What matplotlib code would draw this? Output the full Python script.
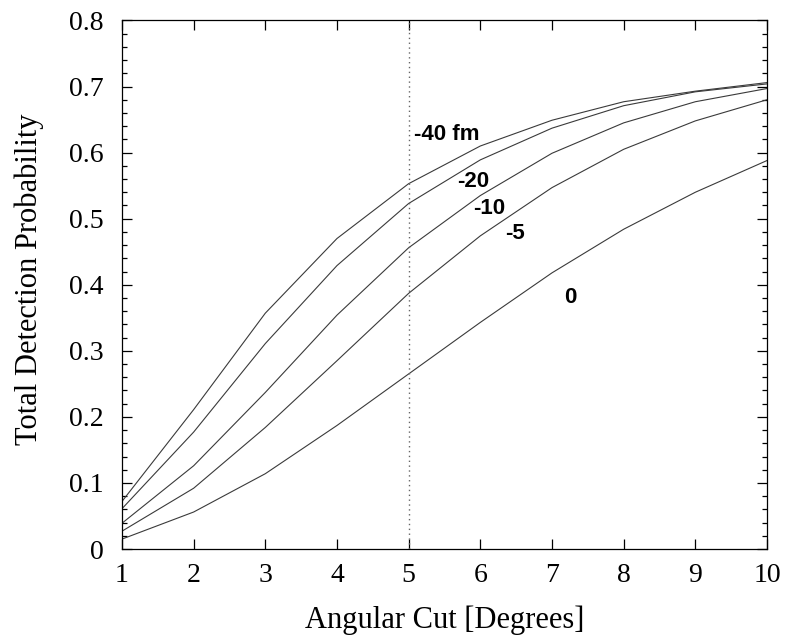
import matplotlib
matplotlib.use("Agg")
import matplotlib.pyplot as plt
from matplotlib.ticker import MultipleLocator

angle = [1, 2, 3, 4, 5, 6, 7, 8, 9, 10]
p_m40 = [0.072, 0.211, 0.357, 0.470, 0.553, 0.610, 0.649, 0.677, 0.693, 0.706]
p_m20 = [0.061, 0.177, 0.311, 0.429, 0.523, 0.589, 0.637, 0.671, 0.692, 0.704]
p_m10 = [0.039, 0.126, 0.237, 0.354, 0.456, 0.535, 0.599, 0.645, 0.677, 0.697]
p_m5 = [0.027, 0.092, 0.184, 0.285, 0.387, 0.474, 0.547, 0.605, 0.648, 0.680]
p_0 = [0.015, 0.056, 0.114, 0.187, 0.265, 0.343, 0.418, 0.484, 0.540, 0.588]

curve_labels = ["-40 fm", "-20", "-10", "-5", "0"]
label_x = [5.07, 5.67, 5.90, 6.35, 7.17]
label_y = [0.628, 0.557, 0.516, 0.477, 0.381]

fig = plt.figure(figsize=(7.86, 6.44), dpi=100)
ax = fig.add_axes([0.1552, 0.1475, 0.8206, 0.8207])

for p in [p_m40, p_m20, p_m10, p_m5, p_0]:
    ax.plot(angle, p, color="#3a3a3a", lw=0.8)

# cut at 5 degrees
ax.axvline(5, color="#666666", lw=1.0, ls=(0, (1, 2.5)))

for txt, x, y in zip(curve_labels, label_x, label_y):
    ax.text(x, y, txt, fontsize=16, fontweight="bold",
            family="Liberation Sans", ha="left", va="center")

ax.set_xlim(1, 10)
ax.set_ylim(0, 0.8)
ax.xaxis.set_major_locator(MultipleLocator(1))
ax.yaxis.set_major_locator(MultipleLocator(0.1))
ax.yaxis.set_minor_locator(MultipleLocator(0.02))
ax.yaxis.set_major_formatter(plt.FuncFormatter(lambda v, _: "0" if v == 0 else f"{v:.1f}"))
ax.tick_params(which="both", direction="in", top=True, right=True,
               labelsize=20, width=0.9)
ax.tick_params(which="major", length=7.5)
ax.tick_params(which="minor", length=3.5)
ax.tick_params(axis="x", pad=10)
ax.tick_params(axis="y", pad=13)
for lab in ax.get_xticklabels() + ax.get_yticklabels():
    lab.set_family("Liberation Serif")
for s in ax.spines.values():
    s.set_linewidth(0.9)

ax.set_xlabel("Angular Cut [Degrees]", family="Liberation Serif", fontsize=22)
ax.set_ylabel("Total Detection Probability", family="Liberation Serif", fontsize=22)
ax.xaxis.label.set_va("baseline")
ax.xaxis.set_label_coords(0.5, -0.1495)
ax.yaxis.label.set_va("center")
ax.yaxis.set_label_coords(-0.144, 0.51)

fig.savefig("out.png", dpi=100)
